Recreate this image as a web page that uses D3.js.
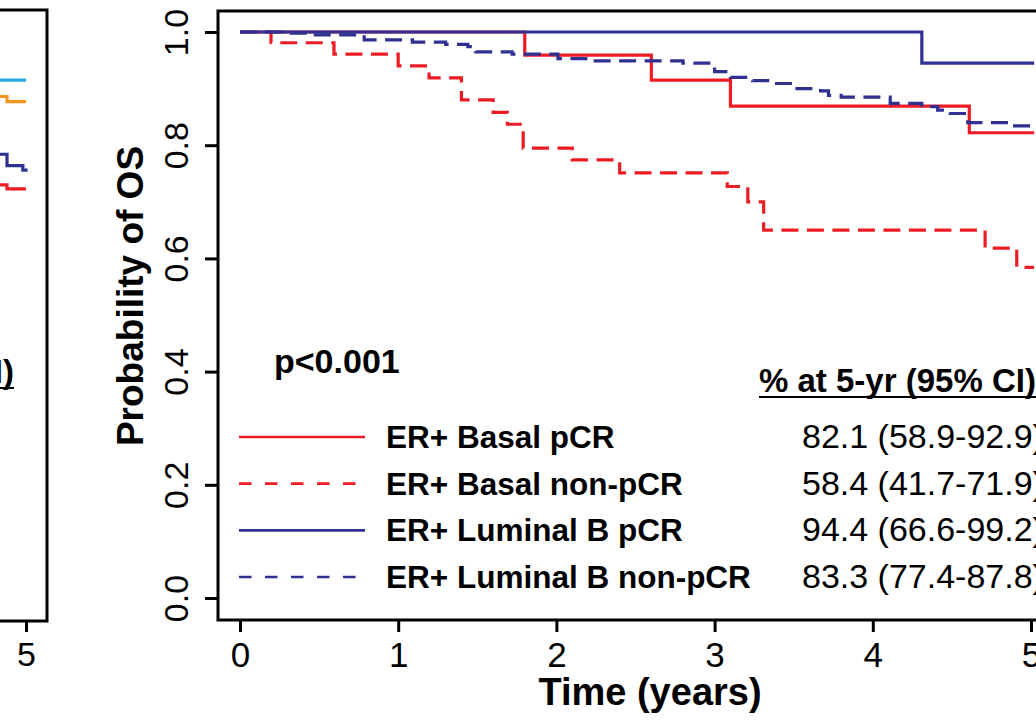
<!DOCTYPE html>
<html>
<head>
<meta charset="utf-8">
<script src="https://cdn.jsdelivr.net/npm/d3@7"></script>
<style>
  body { margin: 0; background: #fff; }
  svg { display: block; }
  text { font-family: "Liberation Sans", Arial, Helvetica, sans-serif; fill: #000; }
</style>
</head>
<body>
<script>
// Axis ticks
var years = [0, 1, 2, 3, 4, 5];
var yTicks = [0, 0.2, 0.4, 0.6, 0.8, 1.0];

// Legend / table
var groupNames = ["ER+ Basal pCR", "ER+ Basal non-pCR", "ER+ Luminal B pCR", "ER+ Luminal B non-pCR"];
var fiveYear = ["82.1 (58.9-92.9)", "58.4 (41.7-71.9)", "94.4 (66.6-99.2)", "83.3 (77.4-87.8)"];
var pValue = "p<0.001";

// KM curves (step points: time in years, survival probability)
var basalPcrTime = [0, 1.8, 2.6, 3.1, 4.61, 5.02];
var basalPcrSurv = [1, 0.959, 0.915, 0.869, 0.822, 0.822];

var basalNonTime = [0, 0.196, 0.594, 1.0, 1.195, 1.40, 1.60, 1.69, 1.79, 2.10, 2.40, 3.08, 3.21, 3.31, 4.71, 4.91, 5.02];
var basalNonSurv = [1, 0.981, 0.961, 0.940, 0.919, 0.880, 0.858, 0.837, 0.795, 0.774, 0.751, 0.727, 0.700, 0.650, 0.618, 0.584, 0.584];

var lumPcrTime = [0, 4.31, 5.02];
var lumPcrSurv = [1, 0.945, 0.945];

var lumNonTime = [0, 0.30, 0.455, 0.785, 1.09, 1.30, 1.44, 1.49, 1.72, 2.01, 2.21, 2.80, 3.00, 3.10, 3.24, 3.38, 3.51, 3.67, 3.72, 3.80, 4.11, 4.31, 4.41, 4.49, 4.60, 4.88, 5.02];
var lumNonSurv = [1, 0.998, 0.995, 0.986, 0.982, 0.978, 0.974, 0.965, 0.961, 0.953, 0.949, 0.945, 0.930, 0.920, 0.914, 0.909, 0.900, 0.896, 0.888, 0.885, 0.874, 0.868, 0.862, 0.856, 0.840, 0.834, 0.834];

// neighbouring panel (only its right edge is visible)
var leftCyanTime = [4.7, 5.0];
var leftCyanSurv = [0.915, 0.915];
var leftOrangeTime = [4.7, 4.88, 5.0];
var leftOrangeSurv = [0.886, 0.877, 0.877];
var leftNavyTime = [4.7, 4.88, 4.98, 5.01];
var leftNavySurv = [0.784, 0.764, 0.756, 0.756];
var leftRedTime = [4.7, 4.88, 5.0];
var leftRedSurv = [0.730, 0.723, 0.723];

var red = "#ed1c24", navy = "#2e3192", cyan = "#27aae1", orange = "#f7941d";

var series = [
  { name: groupNames[0], t: basalPcrTime, s: basalPcrSurv, color: red, dash: null },
  { name: groupNames[1], t: basalNonTime, s: basalNonSurv, color: red, dash: "17,8.5" },
  { name: groupNames[2], t: lumPcrTime, s: lumPcrSurv, color: navy, dash: null },
  { name: groupNames[3], t: lumNonTime, s: lumNonSurv, color: navy, dash: "17,8.5" }
];

var width = 1036, height = 723;

var svg = d3.select("body").append("svg")
    .attr("width", width).attr("height", height);

var x = d3.scaleLinear().domain([0, 5]).range([240, 1031]);
var y = d3.scaleLinear().domain([0, 1]).range([598, 32]);

var box = { left: 218, top: 11, bottom: 620, right: 1082 };

function pts(t, s) {
  return t.map(function(d, i) { return [d, s[i]]; });
}

// ---- left (cut off) panel ----
var xL = d3.scaleLinear().domain([0, 5]).range([26 - 5 * 158.2, 26]);
var lineL = d3.line().x(function(d) { return xL(d[0]); }).y(function(d) { return y(d[1]); })
    .curve(d3.curveStepAfter);

[[leftCyanTime, leftCyanSurv, cyan], [leftOrangeTime, leftOrangeSurv, orange],
 [leftNavyTime, leftNavySurv, navy], [leftRedTime, leftRedSurv, red]].forEach(function(c) {
  svg.append("path").attr("d", lineL(pts(c[0], c[1])))
      .attr("fill", "none").attr("stroke", c[2]).attr("stroke-width", 3.2);
});

svg.append("path")
    .attr("d", "M-5,10H47V621H-5")
    .attr("fill", "none").attr("stroke", "#000").attr("stroke-width", 3);

svg.append("g").attr("transform", "translate(0,621)")
    .call(d3.axisBottom(xL).tickValues([5]).tickSize(11).tickPadding(10).tickFormat(d3.format("d")))
    .call(function(g) {
      g.select(".domain").remove();
      g.selectAll("line").attr("stroke-width", 3);
      g.selectAll("text").attr("font-size", 34).attr("font-family", null);
    });

svg.append("text").attr("x", 14).attr("y", 383)
    .attr("text-anchor", "end").attr("font-size", 33).attr("font-weight", "bold")
    .text("% at 5-yr (95% CI)");
svg.append("line").attr("x1", -2).attr("x2", 14).attr("y1", 388).attr("y2", 388)
    .attr("stroke", "#000").attr("stroke-width", 2);

// ---- main panel ----
var line = d3.line().x(function(d) { return x(d[0]); }).y(function(d) { return y(d[1]); })
    .curve(d3.curveStepAfter);

series.forEach(function(d) {
  svg.append("path").attr("d", line(pts(d.t, d.s)))
      .attr("fill", "none").attr("stroke", d.color).attr("stroke-width", 3.2)
      .attr("stroke-dasharray", d.dash);
});

svg.append("rect")
    .attr("x", box.left).attr("y", box.top)
    .attr("width", box.right - box.left).attr("height", box.bottom - box.top)
    .attr("fill", "none").attr("stroke", "#000").attr("stroke-width", 3);

svg.append("g").attr("transform", "translate(0," + box.bottom + ")")
    .call(d3.axisBottom(x).tickValues(years).tickSize(12).tickPadding(10).tickFormat(d3.format("d")))
    .call(function(g) {
      g.select(".domain").remove();
      g.selectAll("line").attr("stroke-width", 3);
      g.selectAll("text").attr("font-size", 35).attr("font-family", null);
    });

svg.append("g").attr("transform", "translate(" + box.left + ",0)")
    .call(d3.axisLeft(y).tickValues(yTicks).tickSize(13).tickFormat(d3.format(".1f")))
    .call(function(g) {
      g.select(".domain").remove();
      g.selectAll("line").attr("stroke-width", 3);
      g.selectAll("text").attr("font-size", 34).attr("font-family", null)
        .attr("x", null).attr("dy", null)
        .attr("text-anchor", "middle")
        .attr("transform", "translate(-30,0) rotate(-90)");
    });

svg.append("text")
    .attr("transform", "translate(143,296) rotate(-90)")
    .attr("text-anchor", "middle").attr("font-size", 37).attr("font-weight", "bold")
    .text("Probability of OS");

svg.append("text")
    .attr("x", 650).attr("y", 705)
    .attr("text-anchor", "middle").attr("font-size", 38).attr("font-weight", "bold")
    .text("Time (years)");

svg.append("text").attr("x", 274).attr("y", 373)
    .attr("font-size", 34).attr("font-weight", "bold").text(pValue);

svg.append("text").attr("x", 759).attr("y", 392)
    .attr("font-size", 33).attr("font-weight", "bold").text("% at 5-yr (95% CI)");
svg.append("line").attr("x1", 759).attr("x2", 1040).attr("y1", 397).attr("y2", 397)
    .attr("stroke", "#000").attr("stroke-width", 2);

var legendY = d3.scalePoint().domain(groupNames).range([437, 577]);

var legend = svg.selectAll(".legend").data(series).enter().append("g")
    .attr("class", "legend")
    .attr("transform", function(d) { return "translate(0," + legendY(d.name) + ")"; });

legend.append("line").attr("x1", 239).attr("x2", 365)
    .attr("stroke", function(d) { return d.color; }).attr("stroke-width", 2.7)
    .attr("stroke-dasharray", function(d) { return d.dash ? "12.5,13.5" : null; });

legend.append("text").attr("x", 386).attr("y", 11)
    .attr("font-size", 31.5).attr("font-weight", "bold")
    .text(function(d) { return d.name; });

legend.append("text").attr("x", 802).attr("y", 11)
    .attr("font-size", 34)
    .text(function(d, i) { return fiveYear[i]; });
</script>
</body>
</html>
